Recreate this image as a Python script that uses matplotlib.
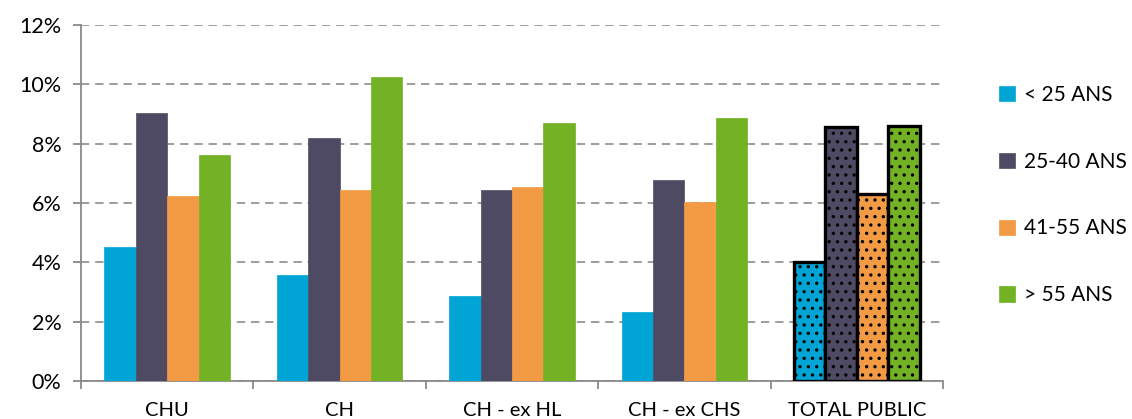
import matplotlib
matplotlib.use("Agg")
import matplotlib.pyplot as plt
import numpy as np
from matplotlib.ticker import FuncFormatter, FixedLocator

plt.rcParams['font.family'] = ['Lato', 'DejaVu Sans']
plt.rcParams['hatch.linewidth'] = 1.2

categories = ["CHU", "CH", "CH - ex HL", "CH - ex CHS", "TOTAL PUBLIC"]
series = ["< 25 ANS", "25-40 ANS", "41-55 ANS", "> 55 ANS"]
values_lt25 = [4.52, 3.58, 2.88, 2.33, 4.00]
values_25_40 = [9.05, 8.20, 6.43, 6.78, 8.55]
values_41_55 = [6.25, 6.45, 6.55, 6.03, 6.32]
values_gt55 = [7.62, 10.25, 8.70, 8.88, 8.60]
colors = ["#00A5D5", "#4F4A63", "#F39A45", "#73B225"]
yticks = [0, 2, 4, 6, 8, 10, 12]

data = [values_lt25, values_25_40, values_41_55, values_gt55]

fig = plt.figure(figsize=(11.32, 4.19), dpi=100)
ax = fig.add_axes([81/1132, 1-381/419, (943-81)/1132, (381-25)/419])

x = np.arange(len(categories))
bw = 0.182
n_regular = len(categories) - 1
for i, (vals, col) in enumerate(zip(data, colors)):
    offs = (i - 1.5) * bw
    ax.bar(x[:n_regular] + offs, vals[:n_regular], width=bw, color=col,
           edgecolor=col, linewidth=0.5, label=series[i], zorder=3)
    ax.bar(x[n_regular:] + offs, vals[n_regular:], width=bw, facecolor=col,
           edgecolor="black", linewidth=2.4, hatch="..", zorder=3)

ax.set_xlim(-0.5, len(categories) - 0.5)
ax.set_ylim(0, 12)
ax.yaxis.set_major_locator(FixedLocator(yticks))
ax.yaxis.set_major_formatter(FuncFormatter(lambda v, p: f"{int(v)}%"))
ax.grid(axis='y', color="#8c8c8c", linestyle=(0, (5, 3.5)), linewidth=1.2, zorder=1)
ax.set_axisbelow(True)

ax.set_xticks(x)
ax.set_xticklabels(categories)
ax.set_xticks(np.arange(-0.5, len(categories)), minor=True)
ax.tick_params(axis='x', which='major', length=0, pad=15, labelsize=14.5)
ax.tick_params(axis='x', which='minor', length=6, color="#898989", width=1.3, direction='out')
ax.tick_params(axis='y', length=6, color="#898989", width=1.3, direction='out', pad=8, labelsize=15.5)

for s in ['top', 'right']:
    ax.spines[s].set_visible(False)
for s in ['left', 'bottom']:
    ax.spines[s].set_color("#898989")
    ax.spines[s].set_linewidth(1.3)

leg = fig.legend(loc='center left', bbox_to_anchor=(0.866, 1-195/419), frameon=False,
                 fontsize=15, handlelength=0.75, handleheight=0.75, handletextpad=0.45,
                 labelspacing=2.25)

fig.savefig("out.png", dpi=100)
